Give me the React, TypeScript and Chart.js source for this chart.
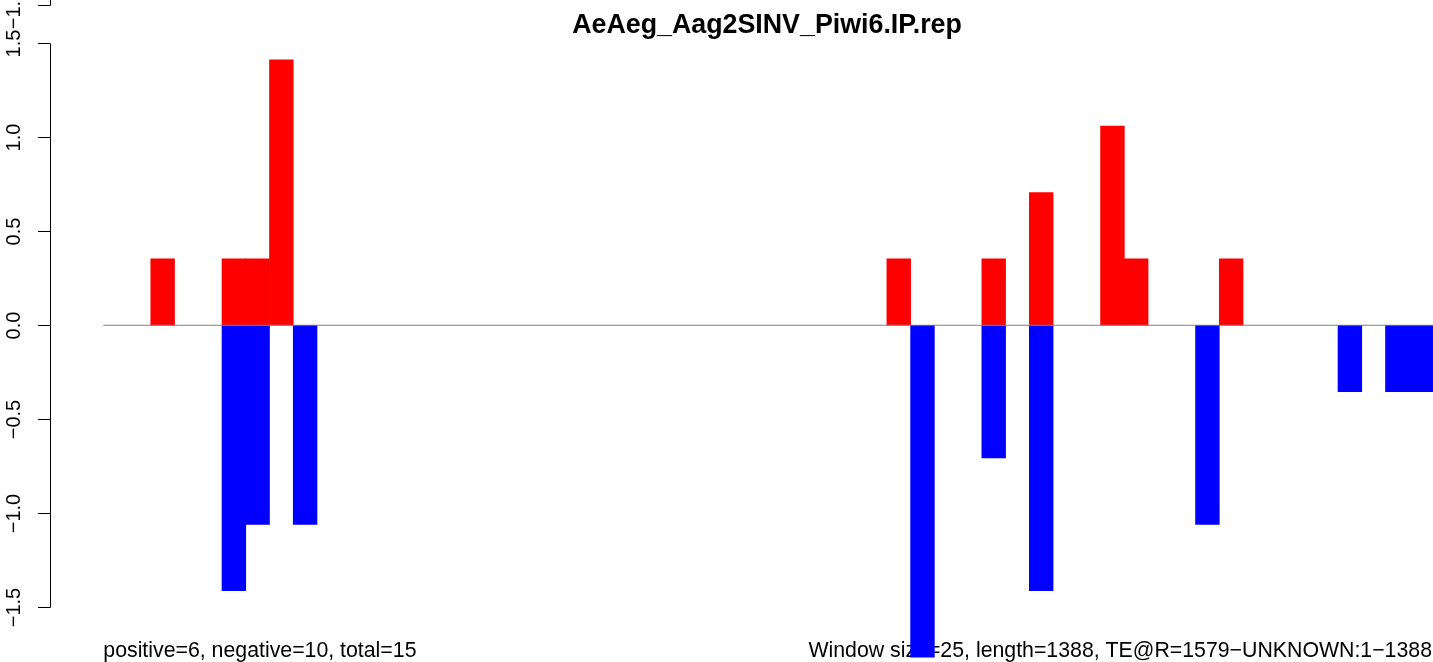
import React, { useEffect, useRef } from "react";
import { Chart, registerables } from "chart.js";

Chart.register(...registerables);

const title = "AeAeg_Aag2SINV_Piwi6.IP.rep";
const leftNote = "positive=6, negative=10, total=15";
const rightNote = "Window size=25, length=1388, TE@R=1579\u2212UNKNOWN:1\u22121388";

const windowCount = 56;
const positiveIdx = [2, 5, 6, 7, 33, 37, 39, 42, 43, 47];
const positiveVal = [0.353, 0.353, 0.353, 1.412, 0.353, 0.353, 0.706, 1.059, 0.353, 0.353];
const negativeIdx = [5, 6, 8, 34, 37, 39, 46, 52, 54, 55];
const negativeVal = [-1.412, -1.059, -1.059, -1.765, -0.706, -1.412, -1.059, -0.353, -0.353, -0.353];

const yTickValues = [-1.5, -1.0, -0.5, 0.0, 0.5, 1.0, 1.5];
const yTickLabels = ["\u22121.5", "\u22121.0", "\u22120.5", "0.0", "0.5", "1.0", "1.5"];
// fragment of the neighbouring panel's axis visible at the very top edge
const fragmentTickValue = 1.704;
const fragmentTickLabel = "\u22121.5";

function buildSeries(idx: number[], vals: number[]) {
  const out: { x: number; y: number | null }[] = [];
  for (let i = 0; i < windowCount; i++) {
    const k = idx.indexOf(i);
    out.push({ x: i + 0.5, y: k >= 0 ? vals[k] : null });
  }
  return out;
}

const FONT = "'Liberation Sans', Arial, Helvetica, sans-serif";

const decorPlugin = {
  id: "rdecor",
  beforeDatasetsDraw(chart: any) {
    const ctx = chart.ctx;
    const ys = chart.scales.y;
    const xs = chart.scales.x;
    ctx.save();
    ctx.fillStyle = "#000";
    // title
    ctx.font = `bold 26.8px ${FONT}`;
    ctx.textAlign = "center";
    ctx.textBaseline = "alphabetic";
    ctx.fillText(title, 767, 33);
    // y axis
    const axX = 50;
    ctx.strokeStyle = "#000";
    ctx.lineWidth = 1;
    const yTop = ys.getPixelForValue(yTickValues[yTickValues.length - 1]);
    const yBot = ys.getPixelForValue(yTickValues[0]);
    ctx.beginPath();
    ctx.moveTo(axX + 0.5, Math.round(yTop) + 0.5);
    ctx.lineTo(axX + 0.5, Math.round(yBot) + 0.5);
    ctx.stroke();
    ctx.font = `20px ${FONT}`;
    const drawTick = (v: number, label: string, labelShift: number) => {
      const py = Math.round(ys.getPixelForValue(v)) + 0.5;
      ctx.beginPath();
      ctx.moveTo(axX - 12, py);
      ctx.lineTo(axX + 0.5, py);
      ctx.stroke();
      ctx.save();
      ctx.translate(20, py + labelShift);
      ctx.rotate(-Math.PI / 2);
      ctx.textAlign = "center";
      ctx.textBaseline = "alphabetic";
      ctx.fillText(label, 0, 0);
      ctx.restore();
    };
    yTickValues.forEach((v, i) => drawTick(v, yTickLabels[i], 0));
    // neighbouring panel fragment
    const fy = Math.round(ys.getPixelForValue(fragmentTickValue)) + 0.5;
    ctx.beginPath();
    ctx.moveTo(axX + 0.5, 0);
    ctx.lineTo(axX + 0.5, fy);
    ctx.stroke();
    drawTick(fragmentTickValue, fragmentTickLabel, 4);
    // bottom notes
    ctx.font = `21.3px ${FONT}`;
    ctx.textAlign = "left";
    ctx.fillText(leftNote, xs.getPixelForValue(0), 656.5);
    ctx.textAlign = "right";
    ctx.fillText(rightNote, 1432, 656.5);
    ctx.restore();
  },
  afterDatasetsDraw(chart: any) {
    const ctx = chart.ctx;
    const ys = chart.scales.y;
    const xs = chart.scales.x;
    const py = ys.getPixelForValue(0);
    ctx.save();
    ctx.strokeStyle = "#7f7f7f";
    ctx.lineWidth = 1.2;
    ctx.beginPath();
    ctx.moveTo(xs.getPixelForValue(0), py);
    ctx.lineTo(chart.width, py);
    ctx.stroke();
    ctx.restore();
  },
};

export default function App() {
  const ref = useRef<HTMLCanvasElement | null>(null);
  useEffect(() => {
    if (!ref.current) return;
    const chart = new Chart(ref.current, {
      type: "bar",
      data: {
        datasets: [
          {
            label: "positive",
            data: buildSeries(positiveIdx, positiveVal) as any,
            backgroundColor: "#ff0000",
            borderWidth: 0,
            barPercentage: 1,
            categoryPercentage: 1,
            grouped: false,
          } as any,
          {
            label: "negative",
            data: buildSeries(negativeIdx, negativeVal) as any,
            backgroundColor: "#0000ff",
            borderWidth: 0,
            barPercentage: 1,
            categoryPercentage: 1,
            grouped: false,
          } as any,
        ],
      },
      options: {
        responsive: false,
        animation: false,
        events: [],
        layout: { padding: 0 },
        plugins: { legend: { display: false }, tooltip: { enabled: false }, title: { display: false } },
        scales: {
          x: { type: "linear", display: false, min: -4.35, max: 56.0, offset: false },
          y: { type: "linear", display: false, min: -1.791, max: 1.730 },
        },
      },
      plugins: [decorPlugin],
    });
    return () => chart.destroy();
  }, []);
  return (
    <div style={{ position: "fixed", left: 0, top: 0, width: 1433, height: 662, background: "#fff" }}>
      <canvas ref={ref} width={1433} height={662} style={{ display: "block" }} />
    </div>
  );
}
